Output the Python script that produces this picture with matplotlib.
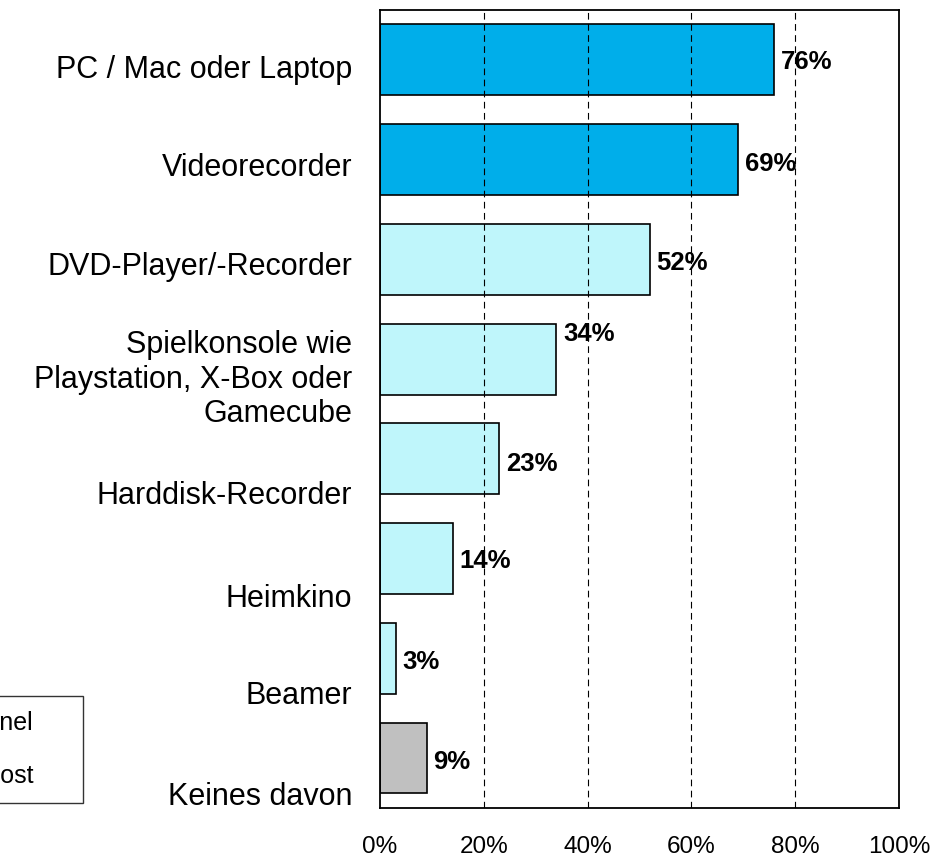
import matplotlib
matplotlib.use('Agg')
import matplotlib.pyplot as plt
from matplotlib.patches import Patch

plt.rcParams['font.family'] = ['Liberation Sans', 'DejaVu Sans']

# data
categories = ['PC / Mac oder Laptop', 'Videorecorder', 'DVD-Player/-Recorder',
              'Spielkonsole wie\nPlaystation, X-Box oder\nGamecube',
              'Harddisk-Recorder', 'Heimkino', 'Beamer', 'Keines davon']
values = [76, 69, 52, 34, 23, 14, 3, 9]
groups = ['dark', 'dark', 'light', 'light', 'light', 'light', 'light', 'none']
tick_values = [0, 20, 40, 60, 80, 100]
legend_labels = ['Online-Panel', 'Telefon / Post']

# styling
colors = {'dark': '#00AEEA', 'light': '#BFF6FB', 'none': '#C0C0C0'}
label_shift = [0.07, 0.05, 0.04, 0.15, 0.34, 0.37, 0.34, 0.35]   # category labels sit a bit low
value_shift = [0.02, 0.04, 0.04, -0.25, 0.05, 0.02, 0.04, 0.04]

fig = plt.figure(figsize=(9.5, 8.61), dpi=100)
ax = fig.add_axes([0.4, 0.0616, 0.9463 - 0.4, 0.9884 - 0.0616])

ypos = list(range(len(categories)))
ax.barh(ypos, values, height=0.71, color=[colors[g] for g in groups],
        edgecolor='black', linewidth=1.2, zorder=2)

for y, v, s in zip(ypos, values, value_shift):
    ax.text(v + 1.3, y + s, f'{v}%', ha='left', va='center', fontsize=18.5,
            fontweight='bold', zorder=1)

for t in tick_values[1:-1]:
    ax.axvline(t, color='black', lw=0.8, linestyle=(0, (6, 4)), zorder=3)

ax.set_xlim(0, 100)
ax.set_ylim(len(categories) - 0.5, -0.5)
ax.set_xticks(tick_values)
ax.set_xticklabels([f'{t}%' for t in tick_values], fontsize=17.5)
ax.set_yticks([y + s for y, s in zip(ypos, label_shift)])
ax.set_yticklabels(categories, fontsize=22, ha='right', multialignment='right',
                   linespacing=1.2)
ax.tick_params(axis='both', length=0)
ax.tick_params(axis='x', pad=20.5)
ax.tick_params(axis='y', pad=20)
for sp in ax.spines.values():
    sp.set_linewidth(1.3)
    sp.set_color('black')

# legend sits mostly off the left edge, as in the original
handles = [Patch(facecolor=colors['dark'], edgecolor='black'),
           Patch(facecolor=colors['light'], edgecolor='black')]
leg = fig.legend(handles, legend_labels, loc='upper right',
                 bbox_to_anchor=(83 / 950, 1 - 696 / 861), fontsize=18,
                 frameon=True, fancybox=False, edgecolor='black',
                 markerfirst=False, handlelength=1.0, handletextpad=0.4,
                 labelspacing=1.15, borderpad=0.6, borderaxespad=0)
leg.get_frame().set_linewidth(1.0)
for h in leg.legend_handles:
    h.set_visible(False)

fig.savefig('out.png', dpi=100)
